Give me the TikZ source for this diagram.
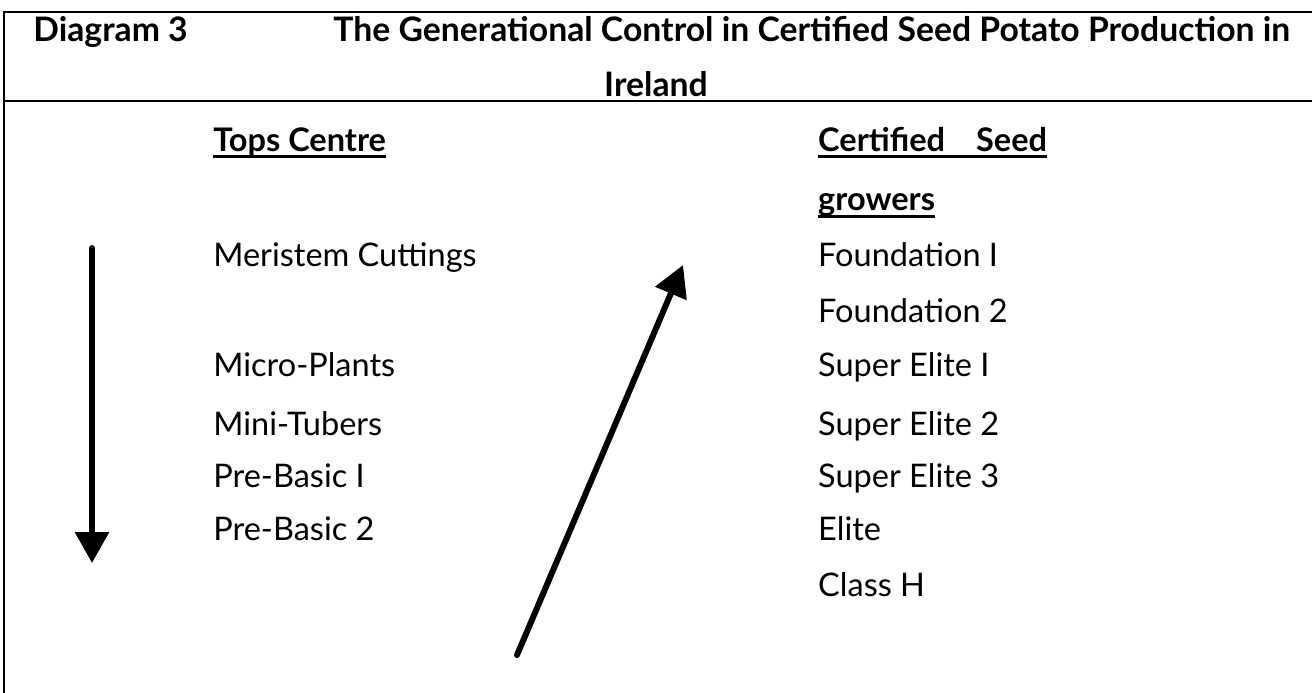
\documentclass[tikz,border=0pt]{standalone}
\usepackage{fontspec}
\setmainfont{Lato}
\usetikzlibrary{arrows.meta, positioning}
\newcommand{\ulbold}[1]{\setbox0=\hbox{#1}\rlap{\rule[-3.8pt]{\wd0}{1.3pt}}\box0}
\tikzstyle{txt} = [inner sep=0, anchor=base west, font=\fontsize{18.5}{22}\selectfont]
\tikzstyle{head} = [txt, font=\fontsize{18.5}{22}\selectfont\bfseries]
\tikzstyle{titletxt} = [txt, font=\fontsize{19.2}{23}\selectfont\bfseries]
\tikzstyle{border} = [draw, line width=1.2pt]
\tikzstyle{bigarrow} = [draw, line width=3.4pt, line cap=round, -{Triangle[length=0.62cm, width=0.66cm]}]
\begin{document}
\begin{tikzpicture}[x=0.02cm, y=-0.02cm]
	\useasboundingbox (0,0) rectangle (1312,693);
	\path [border] (1312,12) -- (4,12) -- (4,693);
	\path [border] (4,101) -- (1312,101);
	
	\node [titletxt] (diag) at (33,41) {Diagram 3};
	\node [titletxt] (title) at (333,41) {The Generational Control in Certified Seed Potato Production in};
	\node [titletxt, anchor=base] (ireland) at (656,96) {Ireland};
	
	\node [head] (tops) at (213,151) {\ulbold{Tops Centre}};
	\node [txt, below=2.32cm of tops.base west, anchor=base west] (meristem) {Meristem Cuttings};
	\node [txt, below=2.2cm of meristem.base west, anchor=base west] (micro) {Micro-Plants};
	\node [txt, below=1.18cm of micro.base west, anchor=base west] (mini) {Mini-Tubers};
	\node [txt, below=1.04cm of mini.base west, anchor=base west] (prebasic1) {Pre-Basic I};
	\node [txt, below=1.06cm of prebasic1.base west, anchor=base west] (prebasic2) {Pre-Basic 2};
	
	\node [head, right=12.1cm of tops.base west, anchor=base west] (certified) {\ulbold{Certified\hspace{0.62cm}Seed}};
	\node [head, below=1.2cm of certified.base west, anchor=base west] (growers) {\ulbold{growers}};
	\node [txt, right=12.1cm of meristem.base west, anchor=base west] (found1) {Foundation I};
	\node [txt, below=1.12cm of found1.base west, anchor=base west] (found2) {Foundation 2};
	\node [txt, right=12.1cm of micro.base west, anchor=base west] (super1) {Super Elite I};
	\node [txt, right=12.1cm of mini.base west, anchor=base west] (super2) {Super Elite 2};
	\node [txt, right=12.1cm of prebasic1.base west, anchor=base west] (super3) {Super Elite 3};
	\node [txt, right=12.1cm of prebasic2.base west, anchor=base west] (elite) {Elite};
	\node [txt, below=1.12cm of elite.base west, anchor=base west] (classh) {Class H};
	
	\coordinate (downtop) at (92,248);
	\coordinate (downend) at (92,563);
	\coordinate (upstart) at (517,655);
	\coordinate (upend) at (683,265);
	\path [bigarrow] (downtop) -- (downend);
	\path [bigarrow] (upstart) -- (upend);
\end{tikzpicture}
\end{document}
